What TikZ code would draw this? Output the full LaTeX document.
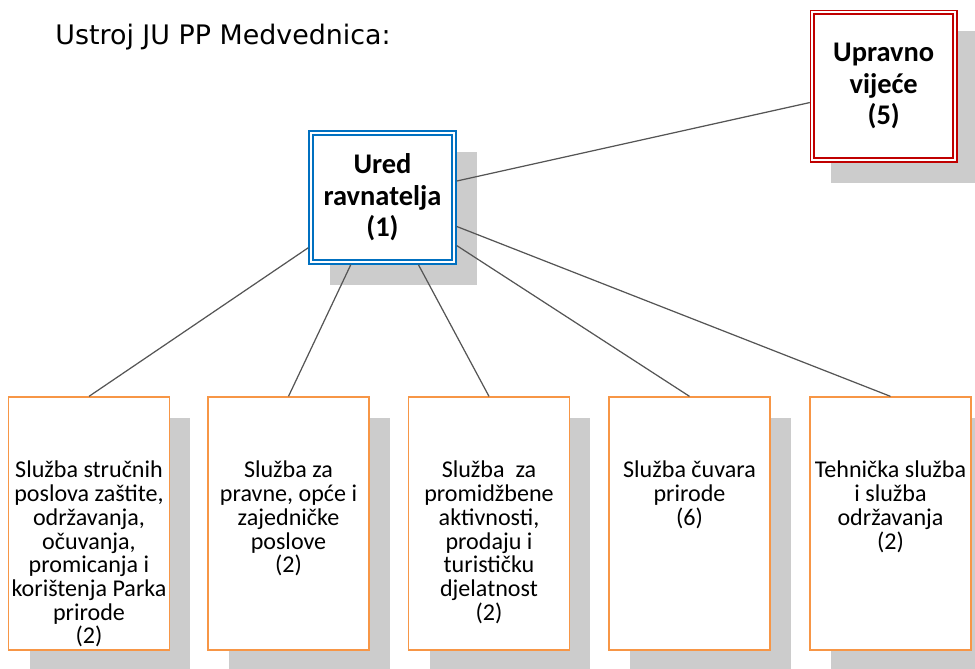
\documentclass[tikz,border=0pt]{standalone}
\usepackage{fontspec}
\setmainfont{Carlito}
\newfontfamily\titlefont{DejaVu Sans}
\usetikzlibrary{positioning,shadows}

\definecolor{uredblue}{RGB}{0,112,192}
\definecolor{vijecered}{RGB}{192,0,0}
\definecolor{sluzbaorange}{RGB}{247,150,70}
\definecolor{shadowgray}{RGB}{204,204,204}
\definecolor{linkgray}{RGB}{85,85,85}

\tikzset{
  boxshadow/.style={drop shadow={shadow xshift=0.42cm, shadow yshift=-0.42cm, fill=shadowgray, opacity=1}},
  headbox/.style={draw=#1, line width=0.8pt, fill=white, boxshadow, align=center, inner sep=0pt,
    font=\bfseries\fontsize{16.2}{18}\selectfont},
  innerline/.style={draw=#1, line width=1.4pt},
  sluzba/.style={draw=sluzbaorange, line width=0.75pt, fill=white, boxshadow,
    minimum width=3.22cm, minimum height=5.06cm, inner sep=0pt},
  sluzbatext/.style={align=center, inner sep=0pt, font=\fontsize{13.7}{13.5}\selectfont},
  link/.style={draw=linkgray, line width=0.7pt},
}

\begin{document}
\begin{tikzpicture}[x=0.02cm, y=-0.02cm]
  \useasboundingbox (0, 0) rectangle (975, 669);

  \node[anchor=base west, inner sep=0pt, font=\titlefont\fontsize{15.3}{17}\selectfont] (title) at (55, 45) {Ustroj JU PP Medvednica:};

  % upper boxes
  \node[headbox=uredblue, minimum width=2.94cm, minimum height=2.66cm] (ured) at (382.5, 197.5) {Ured\\ravnatelja\\(1)};
  \node[headbox=vijecered, minimum width=2.93cm, minimum height=3.03cm] (vijece) at (883.7, 86.2) {Upravno\\vije\'ce\\(5)};
  \draw[innerline=uredblue] ([shift={(4.5, 4.5)}]ured.north west) rectangle ([shift={(-4.5, -4.5)}]ured.south east);
  \draw[innerline=vijecered] ([shift={(4.5, 4.5)}]vijece.north west) rectangle ([shift={(-4.5, -4.5)}]vijece.south east);

  % sluzbe
  \node[sluzba] (s1) at (89, 523.5) {};
  \node[sluzba] (s2) at (288.5, 523.5) {};
  \node[sluzba] (s3) at (489, 523.5) {};
  \node[sluzba] (s4) at (689.5, 523.5) {};
  \node[sluzba] (s5) at (890.5, 523.5) {};

  \node[sluzbatext, below=1.29cm of s1.north] (s1t) {Služba stručnih\\poslova zaštite,\\održavanja,\\očuvanja,\\promicanja i\\korištenja Parka\\prirode\\(2)};
  \node[sluzbatext, below=1.29cm of s2.north] (s2t) {Služba za\\pravne, opće i\\zajedničke\\poslove\\(2)};
  \node[sluzbatext, below=1.29cm of s3.north] (s3t) {Služba\ \ za\\promidžbene\\aktivnosti,\\prodaju i\\turističku\\djelatnost\\(2)};
  \node[sluzbatext, below=1.29cm of s4.north] (s4t) {Služba čuvara\\prirode\\(6)};
  \node[sluzbatext, below=1.29cm of s5.north] (s5t) {Tehnička služba\\i služba\\održavanja\\(2)};

  % veze
  \draw[link] (ured) -- (vijece);
  \draw[link] (ured) -- (s1.north);
  \draw[link] (ured) -- (s2.north);
  \draw[link] (ured) -- (s3.north);
  \draw[link] (ured) -- (s4.north);
  \draw[link] (ured) -- (s5.north);
\end{tikzpicture}
\end{document}
